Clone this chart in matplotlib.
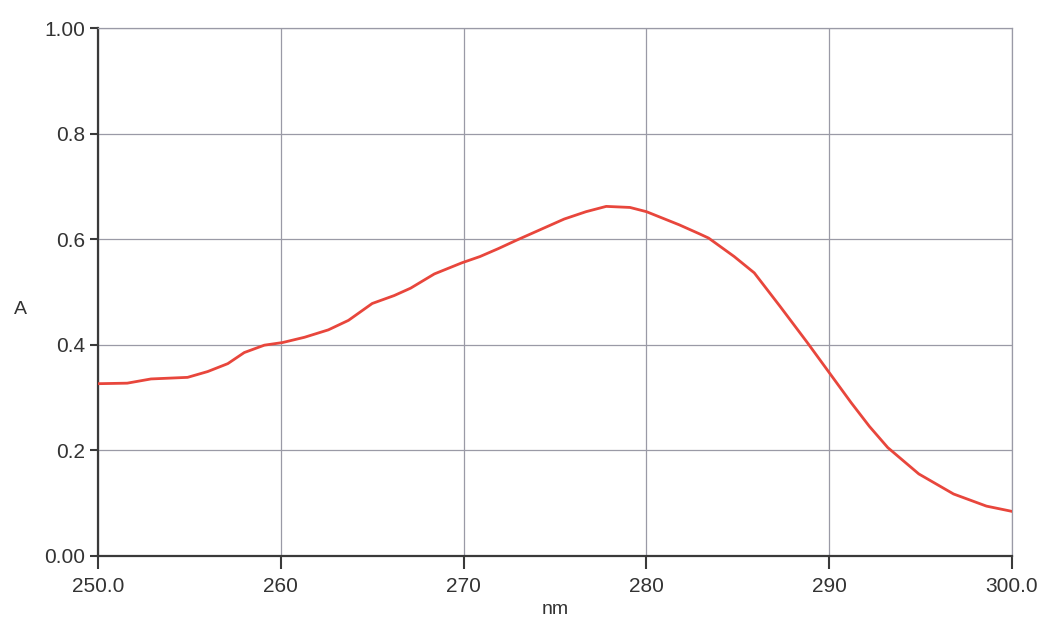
import numpy as np
import matplotlib.pyplot as plt

plt.rcParams['font.family'] = ['Liberation Sans', 'DejaVu Sans']

# absorbance spectrum
wavelength = [250.0, 251.6, 252.9, 254.9, 256.0, 257.1, 258.0, 259.1, 260.1,
              261.3, 262.6, 263.7, 265.0, 266.2, 267.1, 268.4, 269.9, 270.9,
              271.9, 272.9, 274.2, 275.5, 276.7, 277.8, 279.1, 280.0, 281.8,
              282.9, 283.4, 284.8, 285.9, 287.3, 288.8, 290.0, 291.2,
              292.2, 293.2, 294.9, 296.8, 298.6, 300.0]
absorbance = [0.326, 0.327, 0.335, 0.338, 0.349, 0.364, 0.385, 0.399, 0.404,
              0.414, 0.428, 0.446, 0.478, 0.493, 0.507, 0.534, 0.555, 0.567,
              0.582, 0.598, 0.618, 0.638, 0.652, 0.662, 0.660, 0.652, 0.627,
              0.610, 0.602, 0.567, 0.536, 0.473, 0.404, 0.347, 0.290,
              0.245, 0.205, 0.155, 0.117, 0.094, 0.084]

x_ticks = [250, 260, 270, 280, 290, 300]
x_labels = ['250.0', '260', '270', '280', '290', '300.0']
y_ticks = [0.0, 0.2, 0.4, 0.6, 0.8, 1.0]
y_labels = ['0.00', '0.2', '0.4', '0.6', '0.8', '1.00']

fig = plt.figure(figsize=(10.47, 6.23), dpi=100)
ax = fig.add_axes([0.0936, 0.108, 0.873, 0.847])

ax.plot(wavelength, absorbance, color='#e8463c', lw=2.0, zorder=3,
        solid_joinstyle='round')

ax.set_xlim(250, 300)
ax.set_ylim(0, 1.0)
ax.set_xticks(x_ticks)
ax.set_xticklabels(x_labels)
ax.set_yticks(y_ticks)
ax.set_yticklabels(y_labels)

ax.grid(True, color='#9a9aa6', lw=0.9)
ax.set_axisbelow(True)

for side in ['top', 'right']:
    ax.spines[side].set_color('#9a9aa6')
    ax.spines[side].set_linewidth(0.9)
for side in ['left', 'bottom']:
    ax.spines[side].set_color('#3a3a3a')
    ax.spines[side].set_linewidth(1.6)

ax.tick_params(axis='both', colors='#3a3a3a', labelcolor='#333333',
               labelsize=15, width=1.5)
ax.tick_params(axis='x', length=9, pad=6)
ax.tick_params(axis='y', length=6, pad=3)

ax.set_xlabel('nm', fontsize=14, color='#333333', labelpad=4)
ax.set_ylabel('A', fontsize=14, color='#333333', rotation=0)
ax.yaxis.set_label_coords(-0.085, 0.45)

fig.savefig('out.png', dpi=100)
